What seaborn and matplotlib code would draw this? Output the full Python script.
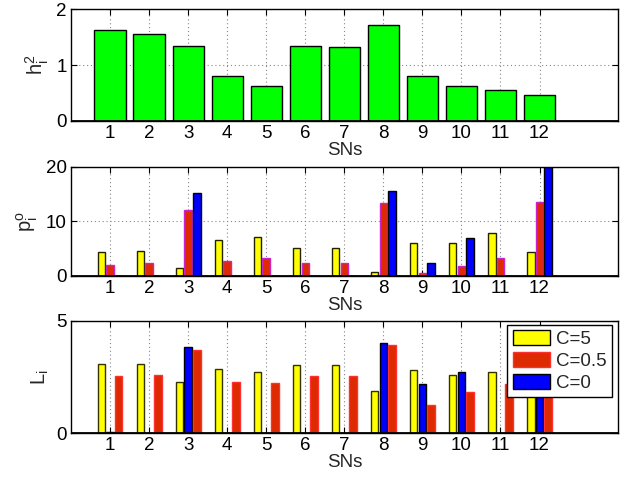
import numpy as np
import pandas as pd
import matplotlib
matplotlib.use("Agg")
import matplotlib.pyplot as plt
import seaborn as sns
from matplotlib.patches import Patch

sns.set_theme(style="white")
plt.rcParams['font.family'] = ['Liberation Sans', 'DejaVu Sans']
plt.rcParams['mathtext.fontset'] = 'custom'
plt.rcParams['mathtext.rm'] = 'Liberation Sans'
plt.rcParams['mathtext.it'] = 'Liberation Sans'

sns_ids = list(range(1, 13))
tick_labels = [str(i) for i in sns_ids]

h2 = [1.62, 1.56, 1.35, 0.81, 0.62, 1.335, 1.32, 1.71, 0.81, 0.615, 0.55, 0.46]

p_c5 = [4.3, 4.5, 1.55, 6.5, 7.15, 5.05, 5.05, 0.65, 6.1, 5.95, 7.85, 4.3]
p_c05 = [1.95, 2.3, 12.1, 2.7, 3.2, 2.4, 2.4, 13.35, 0.5, 1.8, 3.35, 13.5]
p_c0 = [0.05, 0.05, 15.2, 0.0, 0.0, 0.0, 0.0, 15.45, 2.4, 7.0, 0.0, 19.9]

L_c5 = [3.09, 3.09, 2.26, 2.87, 2.74, 3.04, 3.04, 1.90, 2.82, 2.60, 2.74, 2.30]
L_c0 = [0.05, 0.02, 3.85, 0.0, 0.0, 0.0, 0.0, 4.03, 2.19, 2.74, 0.0, 3.00]
L_c05 = [2.53, 2.60, 3.69, 2.28, 2.22, 2.54, 2.53, 3.93, 1.24, 1.84, 2.20, 3.00]

series_names = ['C=5', 'C=0.5', 'C=0']
YEL = '#FFFF00'
RED = '#DD2A00'
BLU = '#0000FF'
GRN = '#00FF00'

fig = plt.figure(figsize=(6.29, 4.78), dpi=100)
left, width = 0.1129, 0.869
ax1 = fig.add_axes([left, 0.7475, width, 0.233])
ax2 = fig.add_axes([left, 0.4226, width, 0.229])
ax3 = fig.add_axes([left, 0.0935, width, 0.2355])

FS = 13.5
LFS = 14.5


def style(ax, ylim, yticks, ylabel):
    ax.set_xlim(0, 14)
    ax.set_ylim(*ylim)
    ax.set_xticks(sns_ids)
    ax.set_xticklabels(tick_labels, fontsize=FS)
    ax.set_yticks(yticks)
    ax.set_yticklabels([str(t) for t in yticks], fontsize=FS)
    ax.set_xlabel('SNs', fontsize=FS, labelpad=0)
    ax.set_ylabel(ylabel, fontsize=LFS, labelpad=4)
    ax.grid(True, linestyle=(0, (1, 2.5)), color='#888888', linewidth=0.8)
    ax.set_axisbelow(True)
    ax.tick_params(direction='in', top=True, right=True, length=4, width=0.8,
                   colors='black', pad=3, bottom=True, left=True)
    for s in ax.spines.values():
        s.set_color('black')
        s.set_linewidth(1.0)
    ax.axhline(0, color='black', linewidth=2.0, zorder=5)


# Panel 1
df1 = pd.DataFrame({'sn': sns_ids, 'val': h2})
sns.barplot(data=df1, x='sn', y='val', native_scale=True, width=0.8,
            color=GRN, saturation=1, edgecolor='black', linewidth=1.0, ax=ax1, errorbar=None)
style(ax1, (0, 2), [0, 1, 2], r'$\mathregular{h_i^2}$')

# Panel 2
df2 = pd.DataFrame({
    'sn': sns_ids * 3,
    'val': p_c5 + p_c05 + p_c0,
    'C': ['C=5'] * 12 + ['C=0.5'] * 12 + ['C=0'] * 12,
})
sns.barplot(data=df2, x='sn', y='val', hue='C', hue_order=['C=5', 'C=0.5', 'C=0'],
            palette=[YEL, RED, BLU], native_scale=True, width=0.667, gap=0.14,
            saturation=1, linewidth=1.0, ax=ax2, errorbar=None, legend=False)
edge2 = ['#222200', '#CC22CC', '#000000']
for cont, ec in zip(ax2.containers, edge2):
    for p in cont:
        p.set_edgecolor(ec)
style(ax2, (0, 20), [0, 10, 20], r'$\mathregular{p_i^o}$')

# Panel 3 (position order: C=5, C=0, C=0.5)
df3 = pd.DataFrame({
    'sn': sns_ids * 3,
    'val': L_c5 + L_c0 + L_c05,
    'C': ['C=5'] * 12 + ['C=0'] * 12 + ['C=0.5'] * 12,
})
sns.barplot(data=df3, x='sn', y='val', hue='C', hue_order=['C=5', 'C=0', 'C=0.5'],
            palette=[YEL, BLU, RED], native_scale=True, width=0.667, gap=0.14,
            saturation=1, linewidth=1.0, ax=ax3, errorbar=None, legend=False)
edge3 = ['#333300', '#000000', '#FF3030']
for cont, ec in zip(ax3.containers, edge3):
    for p in cont:
        p.set_edgecolor(ec)
style(ax3, (0, 5), [0, 5], r'$\mathregular{L_i}$')

handles = [Patch(facecolor=YEL, edgecolor='black', linewidth=1.0),
           Patch(facecolor=RED, edgecolor='#FF3030', linewidth=1.0),
           Patch(facecolor=BLU, edgecolor='black', linewidth=1.0)]
leg = ax3.legend(handles, series_names, loc='upper right', bbox_to_anchor=(0.99, 0.965),
                 fontsize=FS, frameon=True, fancybox=False, edgecolor='black',
                 framealpha=1, handlelength=2.0, handleheight=0.85, handletextpad=0.3,
                 borderpad=0.3, labelspacing=0.2, borderaxespad=0)
leg.get_frame().set_linewidth(1.0)
leg.set_zorder(10)

fig.savefig('out.png', dpi=100)
